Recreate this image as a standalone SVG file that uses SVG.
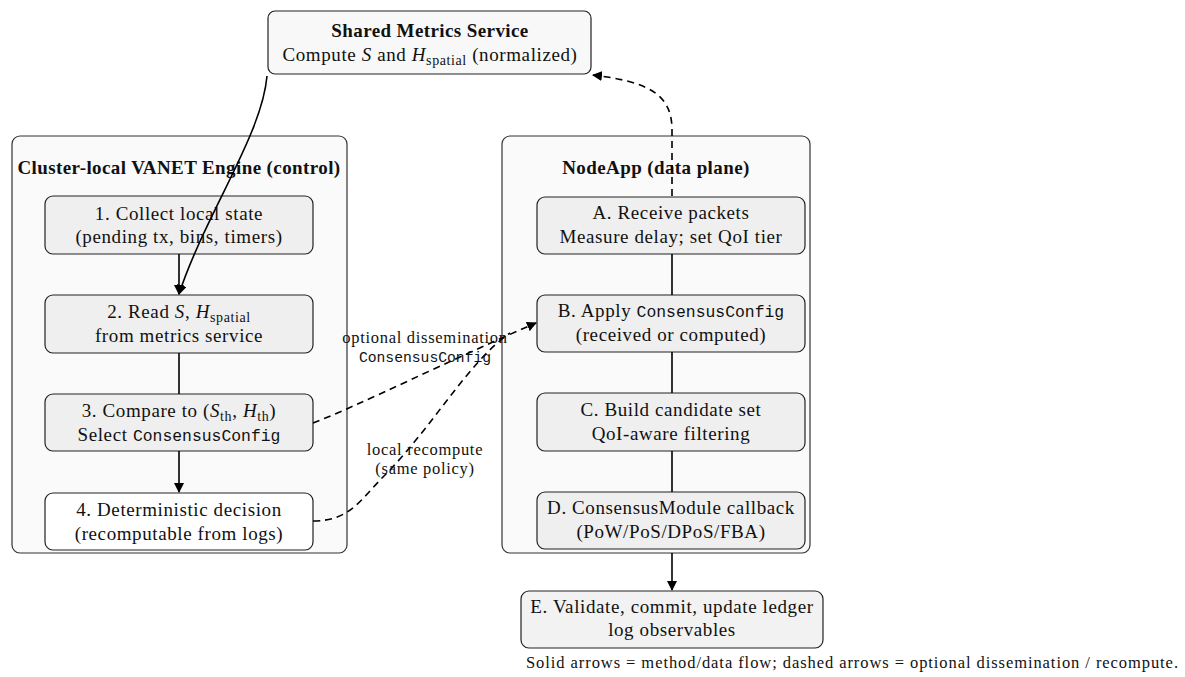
<svg xmlns="http://www.w3.org/2000/svg" width="1185" height="677" viewBox="0 0 1185 677">
<style>
.t{font-family:"Liberation Serif","Times New Roman",serif;font-size:19px;letter-spacing:0.6px;fill:#111;text-anchor:middle}
.b{font-weight:bold;letter-spacing:0.4px}
.m{font-family:"Liberation Mono","Courier New",monospace;font-size:16.4px;letter-spacing:0}
.i{font-style:italic}
.s{font-size:14px}
.cont{fill:#fafafa;stroke:#333;stroke-width:1.2}
.box{fill:#efefef;stroke:#222;stroke-width:1.2}
.wbox{fill:#fff;stroke:#222;stroke-width:1.2}
.ln{fill:none;stroke:#000;stroke-width:1.6}
.ds{fill:none;stroke:#000;stroke-width:1.6;stroke-dasharray:7,5}
.lab{font-family:"Liberation Serif","Times New Roman",serif;font-size:16.5px;letter-spacing:0.7px;fill:#111;text-anchor:middle}
</style>
<defs>
<marker id="ah" viewBox="0 0 10 10" refX="9" refY="5" markerWidth="10" markerHeight="10" markerUnits="userSpaceOnUse" orient="auto">
<path d="M0,0 L10,5 L0,10 z" fill="#000"/>
</marker>
</defs>
<rect width="1185" height="677" fill="#fff"/>
<g id="cluster">
<rect class="cont" x="12" y="136" width="335" height="417" rx="8"/>
<text class="t b" x="179" y="174">Cluster-local VANET Engine (control)</text>
</g>
<g id="nodeapp">
<rect class="cont" x="502" y="136" width="308" height="417" rx="8"/>
<text class="t b" x="656" y="174">NodeApp (data plane)</text>
</g>
<g id="metrics">
<rect x="268" y="11" width="323" height="63" rx="7" fill="#f8f8f8" stroke="#222" stroke-width="1.2"/>
<text class="t b" x="430" y="37">Shared Metrics Service</text>
<text class="t" x="430" y="61">Compute <tspan class="i">S</tspan> and <tspan class="i">H</tspan><tspan class="s" dy="4">spatial</tspan><tspan dy="-4"> (normalized)</tspan></text>
</g>
<g id="n1">
<rect class="box" x="45" y="196" width="268" height="58" rx="8"/>
<text class="t" x="179" y="220">1. Collect local state</text>
<text class="t" x="179" y="243">(pending tx, bins, timers)</text>
</g>
<g id="n2">
<rect class="box" x="45" y="295" width="268" height="58" rx="8"/>
<text class="t" x="179" y="318">2. Read <tspan class="i">S</tspan>, <tspan class="i">H</tspan><tspan class="s" dy="4">spatial</tspan></text>
<text class="t" x="179" y="342">from metrics service</text>
</g>
<g id="n3">
<rect class="box" x="45" y="394" width="268" height="57" rx="8"/>
<text class="t" x="179" y="417">3. Compare to (<tspan class="i">S</tspan><tspan class="s" dy="4">th</tspan><tspan dy="-4">, </tspan><tspan class="i">H</tspan><tspan class="s" dy="4">th</tspan><tspan dy="-4">)</tspan></text>
<text class="t" x="179" y="441">Select <tspan class="m">ConsensusConfig</tspan></text>
</g>
<g id="n4">
<rect class="wbox" x="45" y="493" width="268" height="57" rx="8"/>
<text class="t" x="179" y="516">4. Deterministic decision</text>
<text class="t" x="179" y="540">(recomputable from logs)</text>
</g>
<g id="nA">
<rect class="box" x="537" y="197" width="268" height="57" rx="8"/>
<text class="t" x="671" y="219">A. Receive packets</text>
<text class="t" x="671" y="243">Measure delay; set QoI tier</text>
</g>
<g id="nB">
<rect class="box" x="537" y="295" width="268" height="57" rx="8"/>
<text class="t" x="671" y="317">B. Apply <tspan class="m">ConsensusConfig</tspan></text>
<text class="t" x="671" y="341">(received or computed)</text>
</g>
<g id="nC">
<rect class="box" x="537" y="393" width="268" height="58" rx="8"/>
<text class="t" x="671" y="416">C. Build candidate set</text>
<text class="t" x="671" y="440">QoI-aware filtering</text>
</g>
<g id="nD">
<rect class="box" x="537" y="492" width="268" height="57" rx="8"/>
<text class="t" x="671" y="514">D. ConsensusModule callback</text>
<text class="t" x="671" y="538">(PoW/PoS/DPoS/FBA)</text>
</g>
<g id="nE">
<rect class="box" x="521" y="591" width="302" height="57" rx="8" style="fill:#f2f2f2"/>
<text class="t" x="672" y="613">E. Validate, commit, update ledger</text>
<text class="t" x="672" y="636">log observables</text>
</g>
<g id="connectors">
<line class="ln" x1="179" y1="254" x2="179" y2="294" marker-end="url(#ah)"/>
<line class="ln" x1="179" y1="353" x2="179" y2="394"/>
<line class="ln" x1="179" y1="451" x2="179" y2="492" marker-end="url(#ah)"/>
<path class="ln" d="M267 76 C262 135 205 215 179 294" marker-end="url(#ah)"/>
<line class="ln" x1="672" y1="254" x2="672" y2="295"/>
<line class="ln" x1="672" y1="352" x2="672" y2="393"/>
<line class="ln" x1="672" y1="451" x2="672" y2="492"/>
<line class="ln" x1="672" y1="553" x2="672" y2="590" marker-end="url(#ah)"/>
<path class="ds" d="M672 196 L672 130 C672 95 650 82 593 75" marker-end="url(#ah)"/>
<path class="ds" d="M313 423 C360 405 450 360 536 323" marker-end="url(#ah)"/>
<path class="ds" d="M313 521 C350 521 360 500 385 475 C430 430 470 360 510 333"/>
<text class="lab" x="425" y="343">optional dissemination</text>
<text class="lab" x="425" y="362" style="font-family:'Liberation Mono','Courier New',monospace;font-size:14.7px;letter-spacing:0">ConsensusConfig</text>
<text class="lab" x="425" y="455">local recompute</text>
<text class="lab" x="425" y="474">(same policy)</text>
</g>
<text x="1178" y="668" textLength="652" lengthAdjust="spacing" style="font-family:'Liberation Serif','Times New Roman',serif;font-size:16.5px;fill:#111;text-anchor:end">Solid arrows = method/data flow;  dashed arrows = optional dissemination / recompute.</text>
</svg>
